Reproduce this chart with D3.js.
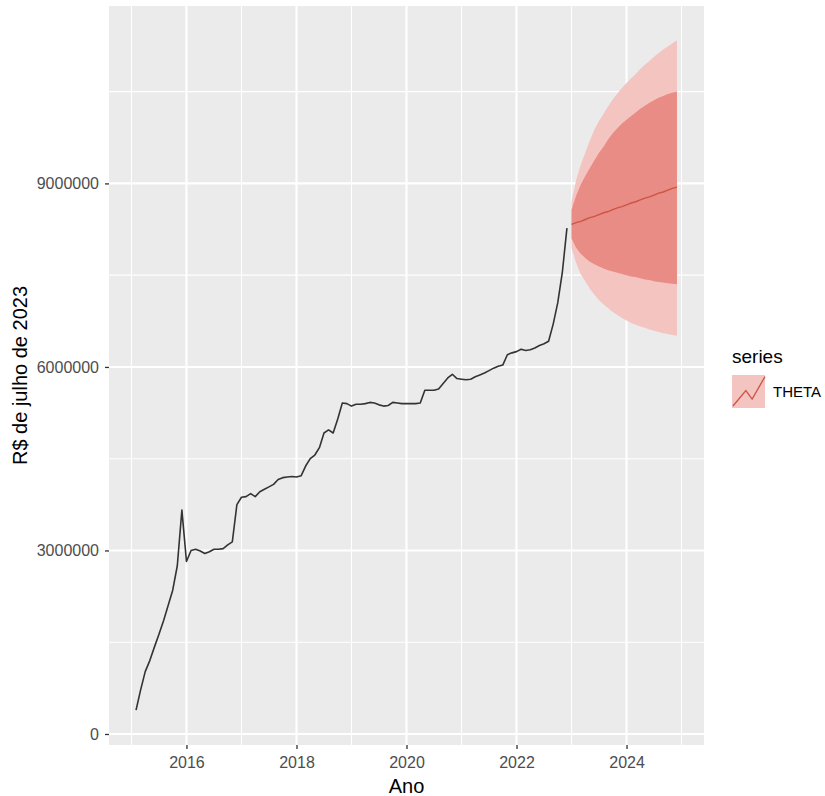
<!DOCTYPE html>
<html><head><meta charset="utf-8">
<script src="https://cdn.jsdelivr.net/npm/d3@7"></script>
<style>body{margin:0;background:#fff}svg{display:block}text{font-family:"Liberation Sans",Arial,sans-serif}</style>
</head><body><svg id="c" width="825" height="796"></svg>
<script>
// historical monthly series, Feb 2015 .. Dec 2022 (millions R$)
const histStart = 2015 + 1/12;
const histValues = [
 0.39,0.72,1.02,1.20,1.42,1.63,1.85,2.10,2.35,2.75,3.66,
 2.82,3.00,3.02,2.99,2.95,2.98,3.02,3.02,3.03,3.09,3.14,3.75,
 3.87,3.88,3.93,3.88,3.96,4.00,4.04,4.08,4.16,4.19,4.20,4.21,
 4.20,4.22,4.38,4.50,4.56,4.68,4.92,4.97,4.92,5.15,5.41,5.40,
 5.36,5.39,5.39,5.40,5.42,5.41,5.38,5.36,5.37,5.42,5.41,5.40,
 5.40,5.40,5.40,5.41,5.62,5.62,5.62,5.64,5.73,5.82,5.88,5.81,
 5.80,5.79,5.80,5.84,5.87,5.90,5.94,5.98,6.01,6.03,6.20,6.23,
 6.25,6.29,6.27,6.28,6.31,6.35,6.38,6.42,6.70,7.05,7.55,8.27
];
// forecast Jan 2023 .. Dec 2024
const fcStart = 2023;
const fcMean = [8.33,8.36,8.38,8.41,8.44,8.46,8.49,8.52,8.54,8.57,8.60,8.62,8.65,8.68,8.70,8.73,8.76,8.78,8.81,8.84,8.86,8.89,8.92,8.94];
const fcHi95 = [8.70,9.05,9.30,9.50,9.70,9.88,10.02,10.14,10.26,10.37,10.47,10.56,10.64,10.72,10.79,10.87,10.94,11.00,11.07,11.13,11.19,11.24,11.29,11.34];
const fcHi80 = [8.57,8.80,8.98,9.12,9.25,9.38,9.50,9.60,9.72,9.82,9.90,9.98,10.04,10.10,10.16,10.22,10.27,10.32,10.36,10.40,10.43,10.46,10.48,10.50];
const fcLo80 = [8.10,7.95,7.85,7.78,7.72,7.68,7.64,7.61,7.58,7.56,7.54,7.52,7.50,7.48,7.47,7.45,7.43,7.42,7.40,7.39,7.38,7.37,7.36,7.35];
const fcLo95 = [7.95,7.70,7.52,7.40,7.28,7.18,7.09,7.02,6.96,6.90,6.85,6.80,6.76,6.72,6.69,6.66,6.64,6.61,6.59,6.57,6.55,6.54,6.52,6.51];
const xMajor = [2016,2018,2020,2022,2024];
const xMinor = [2015,2017,2019,2021,2023,2025];
const yMajor = [0,3000000,6000000,9000000];
const yMinor = [1500000,4500000,7500000,10500000];

const svg = d3.select("#c");
const L=109,R=704,T=6,B=745;
const x = d3.scaleLinear().domain([2014.5917,2025.4083]).range([L,R]);
const y = d3.scaleLinear().domain([-180000,11900000]).range([B,T]);

svg.append("rect").attr("x",L).attr("y",T).attr("width",R-L).attr("height",B-T).attr("fill","#EBEBEB");
const g = svg.append("g");
g.selectAll(".vmin").data(xMinor).join("line").attr("x1",d=>x(d)).attr("x2",d=>x(d)).attr("y1",T).attr("y2",B).attr("stroke","#fff").attr("stroke-width",1.1);
g.selectAll(".hmin").data(yMinor).join("line").attr("y1",d=>y(d)).attr("y2",d=>y(d)).attr("x1",L).attr("x2",R).attr("stroke","#fff").attr("stroke-width",1.1);
g.selectAll(".vmaj").data(xMajor).join("line").attr("x1",d=>x(d)).attr("x2",d=>x(d)).attr("y1",T).attr("y2",B).attr("stroke","#fff").attr("stroke-width",2.1);
g.selectAll(".hmaj").data(yMajor).join("line").attr("y1",d=>y(d)).attr("y2",d=>y(d)).attr("x1",L).attr("x2",R).attr("stroke","#fff").attr("stroke-width",2.1);

const hist = histValues.map((v,i)=>({t:histStart+i/12,v:v*1e6}));
const fc = fcMean.map((v,i)=>({t:fcStart+i/12,m:v*1e6,h95:fcHi95[i]*1e6,l95:fcLo95[i]*1e6,h80:fcHi80[i]*1e6,l80:fcLo80[i]*1e6}));

svg.append("path").datum(fc).attr("fill","#F4C4C0")
 .attr("d",d3.area().x(d=>x(d.t)).y0(d=>y(d.l95)).y1(d=>y(d.h95)));
svg.append("path").datum(fc).attr("fill","#E98C85")
 .attr("d",d3.area().x(d=>x(d.t)).y0(d=>y(d.l80)).y1(d=>y(d.h80)));
svg.append("path").datum(fc).attr("fill","none").attr("stroke","#CC5544").attr("stroke-width",1.4)
 .attr("d",d3.line().x(d=>x(d.t)).y(d=>y(d.m)));
svg.append("path").datum(hist).attr("fill","none").attr("stroke","#333").attr("stroke-width",1.6).attr("stroke-linejoin","round")
 .attr("d",d3.line().x(d=>x(d.t)).y(d=>y(d.v)));

// axes
const xa = svg.append("g").attr("transform",`translate(0,${B})`)
 .call(d3.axisBottom(x).tickValues(xMajor).tickFormat(d3.format("d")).tickSize(4).tickPadding(8));
const ya = svg.append("g").attr("transform",`translate(${L},0)`)
 .call(d3.axisLeft(y).tickValues(yMajor).tickFormat(d3.format("d")).tickSize(4).tickPadding(6));
[xa,ya].forEach(a=>{a.select(".domain").remove();a.selectAll("line").attr("stroke","#333").attr("stroke-width",1.3);
 a.selectAll("text").attr("fill","#4D4D4D").style("font-size","16px");});

svg.append("text").attr("x",(L+R)/2).attr("y",793).attr("text-anchor","middle").style("font-size","20px").attr("fill","#000").text("Ano");
svg.append("text").attr("transform",`translate(27,${(T+B)/2}) rotate(-90)`).attr("text-anchor","middle").style("font-size","20px").attr("fill","#000").text("R$ de julho de 2023");

// legend
const lg = svg.append("g");
lg.append("text").attr("x",732).attr("y",363).style("font-size","19px").attr("fill","#000").text("series");
const kx=732,ky=375,kw=33,kh=33;
lg.append("rect").attr("x",kx).attr("y",ky).attr("width",kw).attr("height",kh).attr("fill","#F4C4C0");
lg.append("path").attr("fill","none").attr("stroke","#CC5544").attr("stroke-width",1.3)
 .attr("d",d3.line()([[kx+1,ky+kh*0.94],[kx+kw*0.42,ky+kh*0.47],[kx+kw*0.61,ky+kh*0.73],[kx+kw,ky+kh*0.05]]));
lg.append("text").attr("x",773).attr("y",397).style("font-size","15px").attr("fill","#000").text("THETA");
</script></body></html>
